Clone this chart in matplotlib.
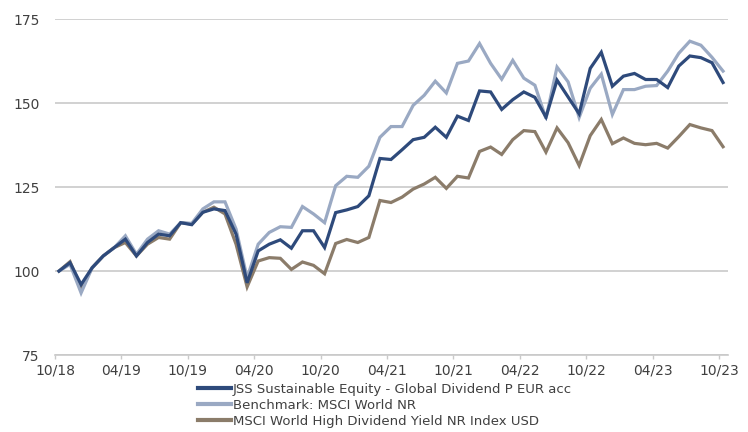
# -*- coding: utf-8 -*-
# Performance chart: fund vs benchmark vs high dividend index (rebased to 100)

import matplotlib as mpl
mpl.use("Agg")
import matplotlib.pyplot as plt
import matplotlib.transforms as mtrans
import numpy as np

mpl.rcParams['font.family'] = 'DejaVu Sans'
mpl.rcParams['font.size'] = 10

# monthly values 10/18 .. 10/23
jss = [100, 102.5, 96, 101, 104.5, 107, 109.5, 104.5, 108.5, 111,
       110.5, 114.4, 113.8, 117.5, 118.5, 118, 111, 96.5, 106, 108,
       109.3, 106.8, 112, 112, 107, 117.4, 118.2, 119.2, 122.4, 133.5,
       133.2, 136.1, 139.1, 139.8, 142.8, 139.8, 146.1, 144.8, 153.6, 153.3,
       148.1, 151, 153.3, 151.7, 145.8, 156.8, 151.8, 146.8, 160.3, 165.1,
       155, 158, 158.8, 157, 157, 154.6, 161, 164, 163.5, 162,
       156.1]
bench = [100, 102, 93.5, 101, 104.5, 107, 110.5, 105, 109.5, 112,
         111, 114.4, 114.2, 118.5, 120.6, 120.6, 112.5, 98, 108, 111.5,
         113.2, 113, 119.2, 117, 114.4, 125.4, 128.2, 127.9, 131.2, 139.8,
         143, 143, 149.3, 152.3, 156.5, 153, 161.8, 162.5, 167.7, 161.8,
         157.1, 162.7, 157.4, 155.3, 145.4, 160.7, 156.3, 145.7, 154.4, 158.6,
         146.6, 154, 154, 155, 155.2, 159.5, 164.8, 168.4, 167.2, 163.6,
         159.5]
hdy = [100, 102.8, 95, 101, 104.5, 107, 108.5, 104.5, 108, 110,
       109.5, 114.4, 114, 117.5, 119, 117, 108, 95.3, 103, 104,
       103.8, 100.5, 102.7, 101.7, 99.2, 108.2, 109.4, 108.5, 110, 121,
       120.4, 122, 124.4, 125.9, 127.9, 124.6, 128.2, 127.7, 135.6, 136.9,
       134.7, 139.1, 141.8, 141.5, 135.4, 142.6, 138.2, 131.4, 140.3, 145.1,
       137.9, 139.6, 138, 137.6, 138, 136.6, 140, 143.6, 142.6, 141.8,
       137]

xticklabels = ['10/18', '04/19', '10/19', '04/20', '10/20', '04/21',
               '10/21', '04/22', '10/22', '04/23', '10/23']
legendlist = ['JSS Sustainable Equity - Global Dividend P EUR acc',
              'Benchmark: MSCI World NR',
              'MSCI World High Dividend Yield NR Index USD']

colors = ['#2E4A7B', '#9AA9C3', '#8B7C6A']
textcolor = '#404040'
gridcolor = '#C9C9C9'

fig = plt.figure(figsize=(7.48, 4.32), dpi=100)
ax = fig.add_axes([0.0735, 0.178, 0.8995, 0.778])

x = np.arange(len(jss))
series = [jss, bench, hdy]
for i in range(len(series)):
    ax.plot(x, series[i], color=colors[i], linewidth=2.3,
            solid_joinstyle='miter', label=legendlist[i], zorder=3 - i * 0.1)

ax.set_ylim(75, 175)
ax.set_yticks([75, 100, 125, 150, 175])
ax.set_xlim(-0.36, 60.43)
ax.set_xticks(np.arange(len(xticklabels)) * 6 - 0.36)
ax.set_xticklabels(xticklabels)

# shift category labels slightly right like the original
offset = mtrans.ScaledTranslation(5 / 100, 0, fig.dpi_scale_trans)
for lab in ax.get_xticklabels():
    lab.set_transform(lab.get_transform() + offset)

# grid
ax.grid(which='major', axis='y', color=gridcolor, linewidth=1.2)
ax.set_axisbelow(True)
for s in ['left', 'right', 'top']:
    ax.spines[s].set_visible(False)
ax.spines['bottom'].set_color(gridcolor)
ax.spines['bottom'].set_linewidth(1.2)

ax.tick_params(axis='y', length=0, pad=11, colors=textcolor, labelsize=10)
ax.tick_params(axis='x', length=3, width=1, color=gridcolor, pad=3,
               labelcolor=textcolor, labelsize=10)

leg = fig.legend(loc='upper left', bbox_to_anchor=(198 / 748, 1 - 383 / 432),
                 frameon=False, fontsize=9.5, handlelength=2.5,
                 handletextpad=0.15, labelspacing=0.22, borderpad=0,
                 borderaxespad=0)
for t in leg.get_texts():
    t.set_color(textcolor)
for h in leg.get_lines():
    h.set_linewidth(3)

fig.savefig('out.png', dpi=100)
